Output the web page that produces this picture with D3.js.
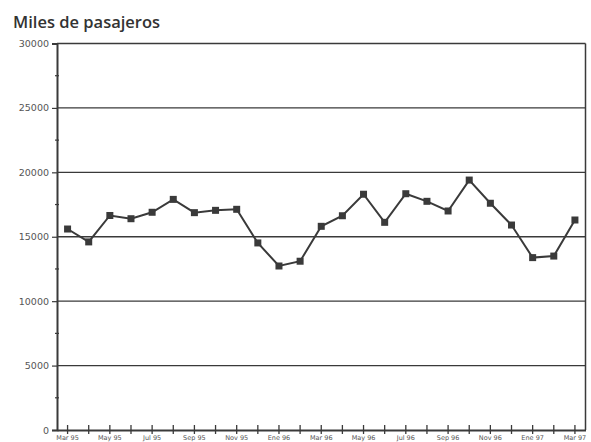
<!DOCTYPE html>
<html><head><meta charset="utf-8">
<script src="https://cdn.jsdelivr.net/npm/d3@7"></script>
<style>html,body{margin:0;padding:0;background:#fff;overflow:hidden}</style>
</head><body>
<svg id="c" width="591" height="442"></svg>
<script>
const months = ["Mar 95","Abr 95","May 95","Jun 95","Jul 95","Ago 95","Sep 95","Oct 95","Nov 95","Dic 95","Ene 96","Feb 96","Mar 96","Abr 96","May 96","Jun 96","Jul 96","Ago 96","Sep 96","Oct 96","Nov 96","Dic 96","Ene 97","Feb 97","Mar 97"];
const pasajeros = [15600,14600,16650,16400,16900,17900,16870,17050,17130,14520,12730,13100,15810,16630,18300,16120,18340,17750,17000,19400,17600,15910,13380,13500,16300];
const yTicks = [0,5000,10000,15000,20000,25000,30000];
const yMinorTicks = [2500,7500,12500,17500,22500,27500];
const title = "Miles de pasajeros";

const svg = d3.select("#c");
const m = {left:57, right:5.5, top:43.5, bottom:12};
const W = 591, H = 442;
const x = d3.scaleBand().domain(months).range([m.left, W - m.right]).paddingInner(0).paddingOuter(0);
const y = d3.scaleLinear().domain([0,30000]).range([430, m.top]);
const cx = d => x(d) + x.bandwidth()/2;
const ink = "#3a3a3a";

// gridlines
svg.append("g").selectAll("line").data(yTicks.filter(v=>v>0)).join("line")
  .attr("x1", m.left).attr("x2", W - m.right)
  .attr("y1", d=>y(d)).attr("y2", d=>y(d))
  .attr("stroke", ink).attr("stroke-width", 1.3);
// right border
svg.append("line").attr("x1", W-m.right).attr("x2", W-m.right).attr("y1", y(30000)).attr("y2", y(0))
  .attr("stroke", ink).attr("stroke-width", 1.5);

// y axis
const ya = svg.append("g").attr("transform",`translate(${m.left},0)`)
  .call(d3.axisLeft(y).tickValues(yTicks).tickFormat(d3.format("d")).tickSize(5).tickPadding(3));
ya.select(".domain").attr("stroke", ink).attr("stroke-width", 2);
ya.selectAll(".tick line").attr("stroke", ink).attr("stroke-width", 1.2);
ya.selectAll("text").attr("font-family","DejaVu Sans, sans-serif").attr("font-size", 9.5).attr("fill","#555");
svg.append("g").selectAll("line").data(yMinorTicks).join("line")
  .attr("x1", m.left-2).attr("x2", m.left+2).attr("y1", d=>y(d)).attr("y2", d=>y(d))
  .attr("stroke", ink).attr("stroke-width", 1.2);

// x axis
const xa = svg.append("g").attr("transform",`translate(0,${y(0)})`)
  .call(d3.axisBottom(x).tickSize(0).tickPadding(3).tickFormat((d,i)=> i%2===0 ? d : ""));
xa.select(".domain").attr("stroke", ink).attr("stroke-width", 2);
xa.selectAll("text").attr("font-family","DejaVu Sans, sans-serif").attr("font-size", 6.5).attr("fill","#555").attr("dy","1.05em");
svg.append("g").selectAll("line").data(months).join("line")
  .attr("x1", d=>cx(d)).attr("x2", d=>cx(d)).attr("y1", y(0)-5).attr("y2", y(0)+4)
  .attr("stroke", ink).attr("stroke-width", 1.3);

// line
svg.append("path").datum(months.map((mo,i)=>[mo, pasajeros[i]]))
  .attr("fill","none").attr("stroke", ink).attr("stroke-width", 2)
  .attr("d", d3.line().x(d=>cx(d[0])).y(d=>y(d[1])));
svg.append("g").selectAll("rect").data(months).join("rect")
  .attr("x", (d)=>cx(d)-3.5).attr("y", (d,i)=>y(pasajeros[i])-3.5)
  .attr("width", 7).attr("height", 7).attr("fill", ink);

svg.append("text").attr("x", 13).attr("y", 27.5).text(title)
  .attr("font-family","Open Sans, sans-serif").attr("font-weight","600").attr("font-size", 16.5).attr("fill","#333");
</script>
</body></html>
